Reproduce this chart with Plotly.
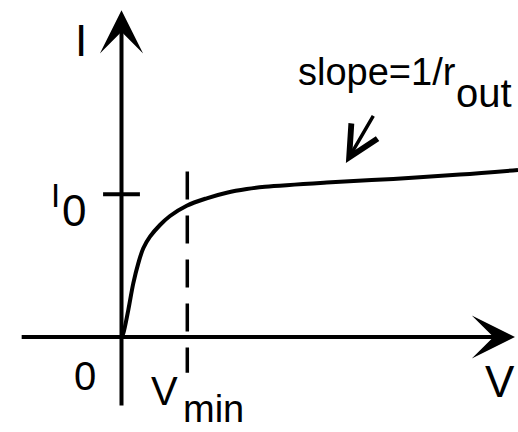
import plotly.graph_objects as go

# I-V curve of a current source; V in units of V_min, I in units of I0
V_CURVE = [0, 0.027, 0.103, 0.179, 0.255, 0.331, 0.433, 0.585, 0.737, 0.991, 1.295, 1.599, 1.903, 2.181, 3.119, 4.131, 5.144, 6.026]
I_CURVE = [0, 0.026, 0.189, 0.376, 0.516, 0.622, 0.703, 0.785, 0.848, 0.920, 0.972, 1.011, 1.037, 1.053, 1.083, 1.108, 1.138, 1.170]

V_MIN = 1.0
I_0 = 1.0

# drawn axes (start, arrow tip)
V_AXIS = [-1.54, 5.98]
I_AXIS = [-0.49, 2.29]

I0_TICK = [-0.28, 0.28]
VMIN_LINE = [1.16, -0.25]

SLOPE_TAIL = (3.84, 1.56)
SLOPE_TIP = (3.41, 1.22)

FONT = "Liberation Sans, Arial, Helvetica, sans-serif"

fig = go.Figure()

fig.add_trace(go.Scatter(
    x=[V_MIN, V_MIN], y=VMIN_LINE, mode="lines",
    line=dict(color="black", width=3.5, dash="28px,16px"),
    hoverinfo="skip",
))
fig.add_trace(go.Scatter(
    x=I0_TICK, y=[I_0, I_0], mode="lines",
    line=dict(color="black", width=4),
    hoverinfo="skip",
))
fig.add_trace(go.Scatter(
    x=V_CURVE, y=I_CURVE, mode="lines",
    line=dict(color="black", width=4, shape="spline", smoothing=1),
    hoverinfo="skip",
))


def arrow(tip, tail, head, size, width):
    return dict(
        x=tip[0], y=tip[1], ax=tail[0], ay=tail[1],
        xref="x", yref="y", axref="x", ayref="y",
        text="", showarrow=True, arrowhead=head, arrowsize=size,
        arrowwidth=width, arrowcolor="black", standoff=0, startstandoff=0,
    )


def label(text, x, y, size, anchor="center"):
    return dict(
        x=x, y=y, xref="x", yref="y", text=text, showarrow=False,
        xanchor=anchor, yanchor="middle",
        font=dict(family=FONT, size=size, color="black"),
    )


annotations = [
    arrow((V_AXIS[1], 0), (V_AXIS[0], 0), 3, 1.8, 4),
    arrow((0, I_AXIS[1]), (0, I_AXIS[0]), 3, 1.8, 4),
    arrow(SLOPE_TIP, SLOPE_TAIL, 5, 1.7, 3.5),
    label("I", -0.62, 2.08, 44),
    label("I", -1.00, 0.99, 33),
    label("0", -0.72, 0.89, 44),
    label("0", -0.555, -0.27, 40),
    label("V", 0.66, -0.38, 40),
    label("min", 1.40, -0.505, 38),
    label("V", 5.75, -0.31, 44),
    label("slope=1/r", 5.12, 1.86, 38, "right"),
    label("out", 5.06, 1.71, 40, "left"),
]

fig.update_layout(
    width=518, height=432,
    margin=dict(l=0, r=0, t=0, b=0),
    paper_bgcolor="white", plot_bgcolor="white",
    showlegend=False,
    xaxis=dict(range=[-1.8465, 6.0258], visible=False, fixedrange=True),
    yaxis=dict(range=[-0.6657, 2.3616], visible=False, fixedrange=True),
    annotations=annotations,
)

fig.write_html("out.html", config={"displayModeBar": False},
               post_script="document.body.style.margin='0';")
